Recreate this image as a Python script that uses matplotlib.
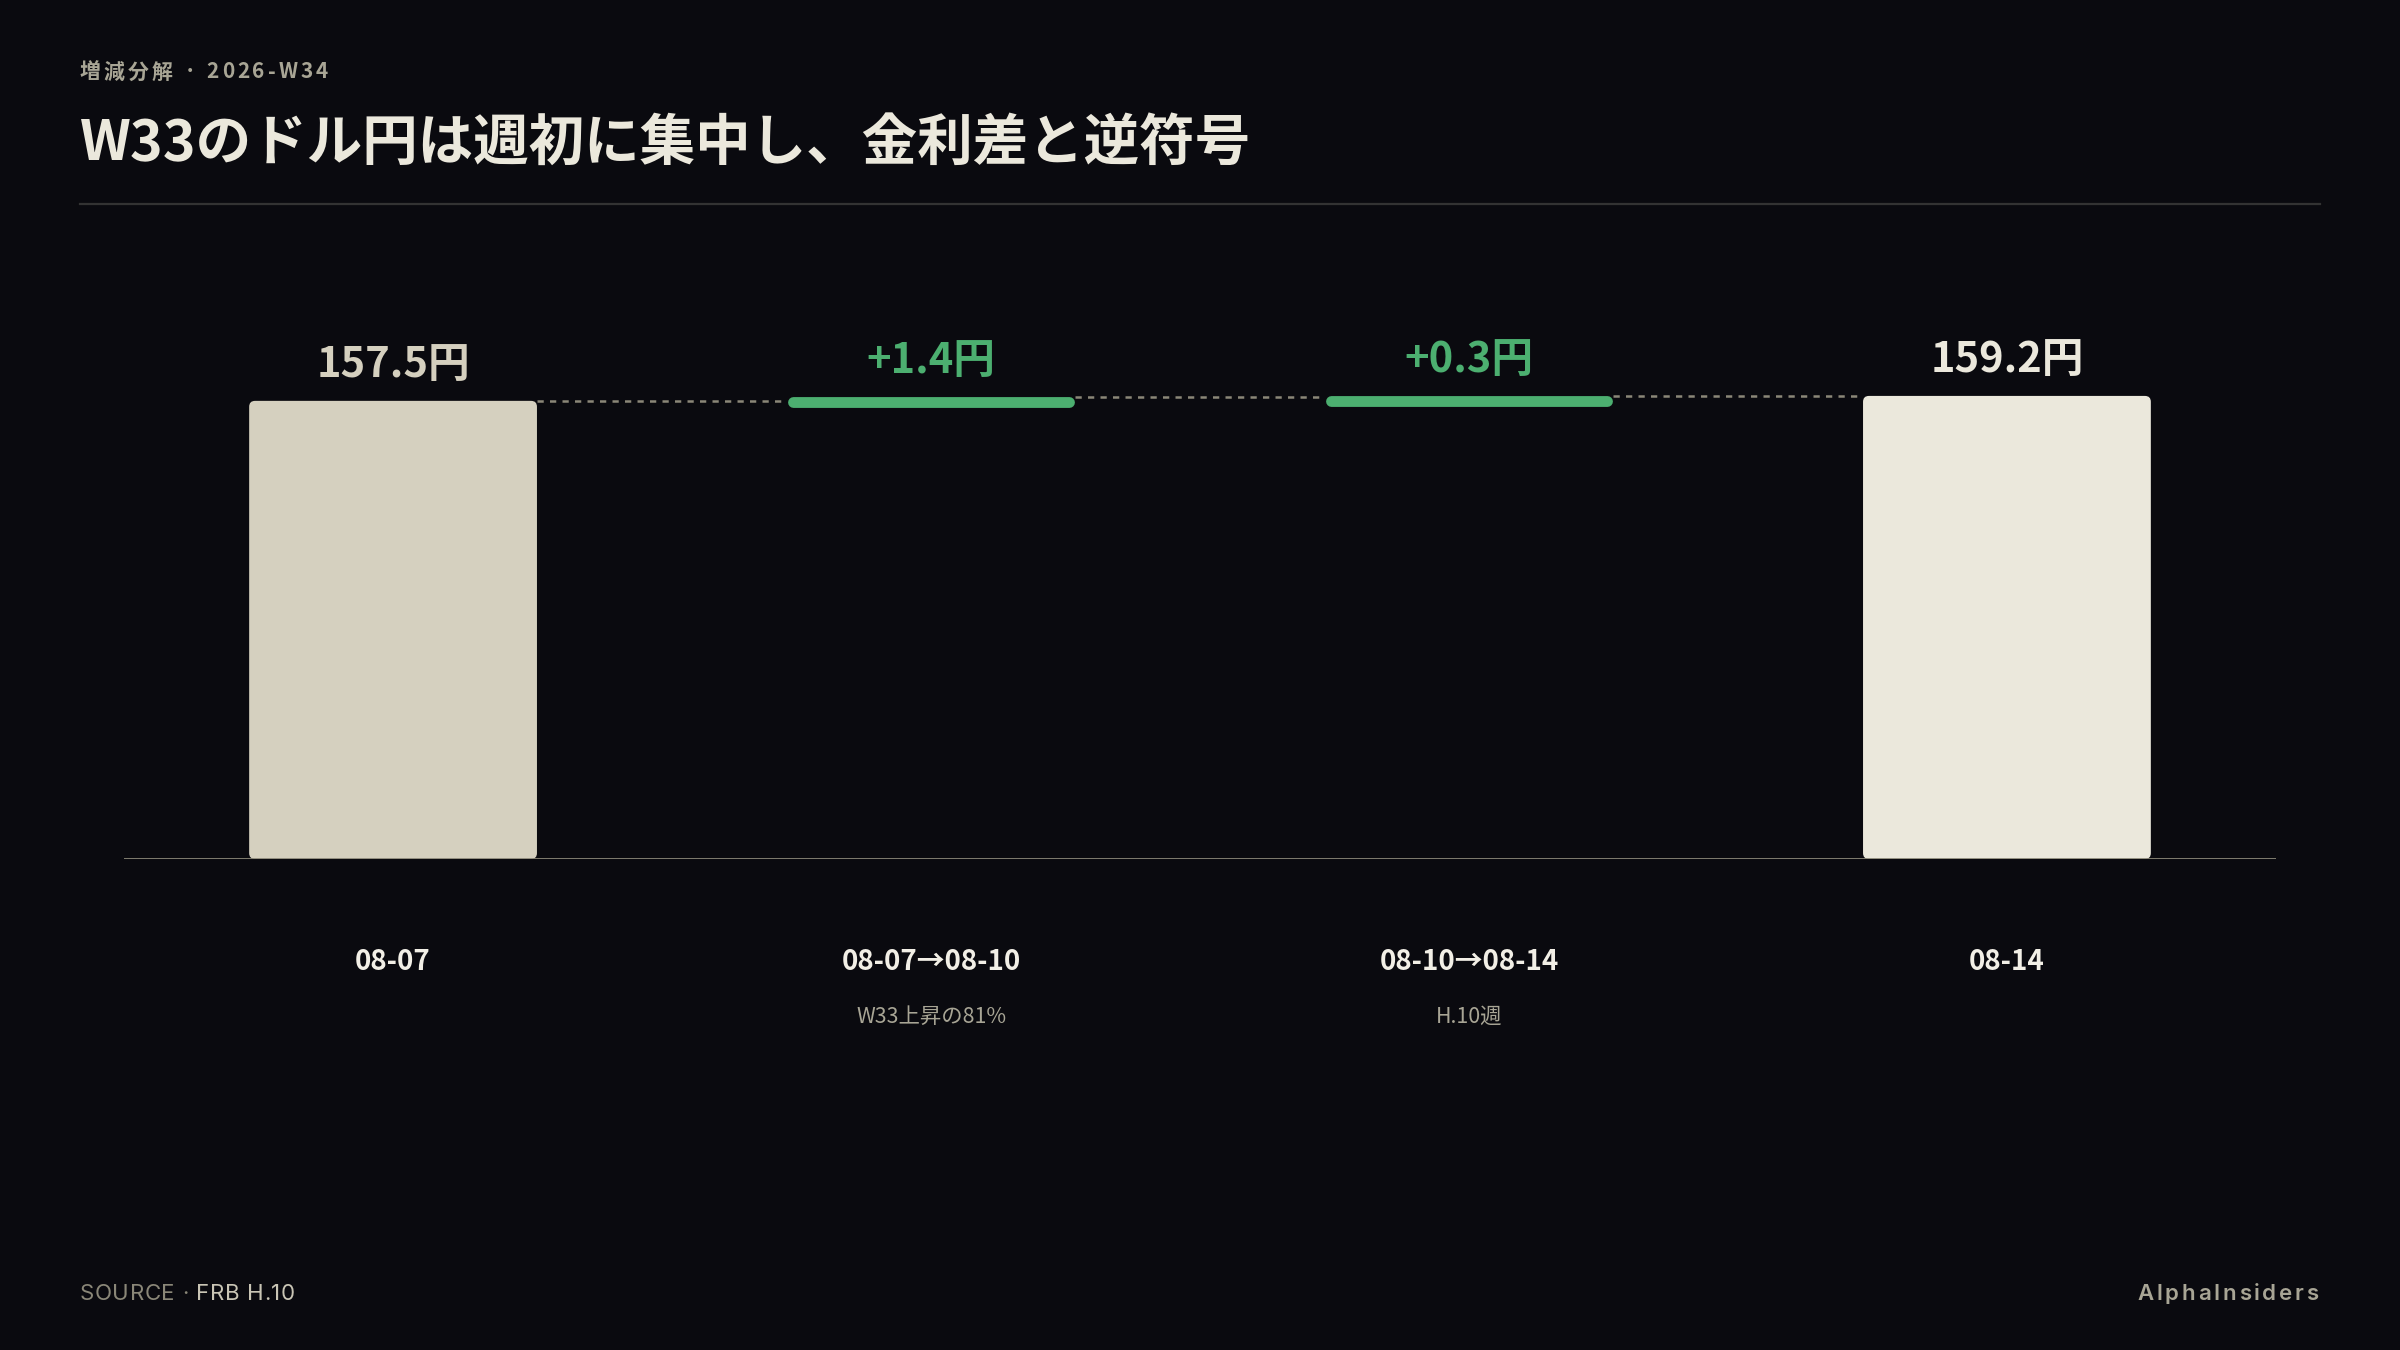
import matplotlib
matplotlib.use("Agg")
import matplotlib.pyplot as plt
import matplotlib.transforms as mtransforms
from matplotlib.patches import FancyBboxPatch

plt.rcParams["font.family"] = ["Noto Sans CJK JP", "DejaVu Sans"]

# data
categories = ["08-07", "08-07→08-10", "08-10→08-14", "08-14"]
notes = ["", "W33上昇の81%", "H.10週", ""]
start_value = 157.5
deltas = [1.4, 0.3]
end_value = 159.2
value_labels = ["157.5円", "+1.4円", "+0.3円", "159.2円"]

BG = "#0a0a0f"
C_START = "#d5d0bf"
C_END = "#ebe8dc"
C_UP = "#4caf70"
C_GRID = "#8a8778"
C_MUTED = "#a8a595"

W, H = 2400, 1350
fig = plt.figure(figsize=(12, 6.75), dpi=200, facecolor=BG)
ax = fig.add_axes([0.0517, 0.3637, 0.8966, 0.3663])
ax.set_facecolor(BG)
ax.set_xlim(-0.5, 3.5)
ax.set_ylim(0, 170)
renderer = fig.canvas.get_renderer()


def spaced_text(x_px, y_px, s, track_px, ha="left", **kw):
    # draw text one character at a time with extra tracking (pixels)
    parts = []
    widths = []
    for ch in s:
        t = fig.text(0, 0, ch, va="center", ha="left", **kw)
        widths.append(t.get_window_extent(renderer).width)
        parts.append(t)
    total = sum(widths) + track_px * (len(s) - 1)
    x0 = x_px - total if ha == "right" else x_px
    for t, w in zip(parts, widths):
        t.set_position((x0 / W, 1 - y_px / H))
        x0 += w + track_px
    return x0


bar_w = 0.535
x = list(range(len(categories)))

# total bars with rounded corners
px_x = ax.bbox.width / 4.0
px_y = ax.bbox.height / 170.0
aspect = px_x / px_y
bars = ax.bar([x[0], x[-1]], [start_value, end_value], width=bar_w,
              color=[C_START, C_END], visible=False)
for rect, col in zip(bars.patches, [C_START, C_END]):
    ax.add_patch(FancyBboxPatch(rect.get_xy(), rect.get_width(), rect.get_height(),
                                boxstyle="round,pad=0,rounding_size=0.011",
                                mutation_aspect=aspect, fc=col, ec="none", zorder=3))

# delta segments
level = start_value
levels = [start_value]
cap = 0.011
for i, d in enumerate(deltas):
    xi = x[i + 1]
    top = level + d
    ax.plot([xi - bar_w / 2 + cap, xi + bar_w / 2 - cap], [top - 1.9, top - 1.9],
            color=C_UP, lw=3.9, solid_capstyle="round", zorder=3)
    level = top
    levels.append(level)

# connectors
for i in range(len(x) - 1):
    ax.plot([x[i] + bar_w / 2, x[i + 1] - bar_w / 2], [levels[i], levels[i]],
            color=C_GRID, lw=0.9, ls=(0, (2.5, 2.5)), zorder=2)

# value labels
tops = [start_value, levels[1], levels[2], end_value]
label_colors = [C_START, C_UP, C_UP, C_END]
for xi, t, lab, col in zip(x, tops, value_labels, label_colors):
    ax.annotate(lab, (xi, t), xytext=(0, 13), textcoords="offset points",
                ha="center", va="center", fontsize=15, fontweight="bold", color=col)

ax.axhline(0, color=C_GRID, lw=1.0, zorder=4)
for s in ax.spines.values():
    s.set_visible(False)
ax.set_xticks([])
ax.set_yticks([])

# category labels
trans = mtransforms.blended_transform_factory(ax.transData, fig.transFigure)
for xi, cat, note in zip(x, categories, notes):
    ax.text(xi, 1 - 962 / H, cat, transform=trans, ha="center", va="center",
            fontsize=10, fontweight="bold", color="#f2efe6")
    if note:
        ax.text(xi, 1 - 1017 / H, note, transform=trans, ha="center", va="center",
                fontsize=7.7, color=C_MUTED)

# header
spaced_text(80, 72, "増減分解 · 2026-W34", 3.0, fontsize=7.5, fontweight="bold",
            color=C_MUTED)
fig.text(80 / W, 1 - 144 / H, "W33のドル円は週初に集中し、金利差と逆符号", ha="left",
         va="center", fontsize=20, fontweight="bold", color="#ebe8dc")
fig.add_artist(plt.Line2D([80 / W, 2320 / W], [1 - 204 / H, 1 - 204 / H],
                          transform=fig.transFigure, color="#333333", lw=0.8))

# footer
xe = spaced_text(80, 1294, "SOURCE · ", 0.6, fontsize=8, color=C_GRID,
                 family=["Inter", "DejaVu Sans"])
spaced_text(xe, 1294, "FRB H.10", 0.6, fontsize=8, color="#c9c5b5",
            family=["Inter", "DejaVu Sans"])
spaced_text(2318, 1294, "AlphaInsiders", 2.7, ha="right", fontsize=8,
            fontweight="semibold", color=C_MUTED, family=["Inter", "DejaVu Sans"])

fig.savefig("out.png", dpi=200, facecolor=BG)
